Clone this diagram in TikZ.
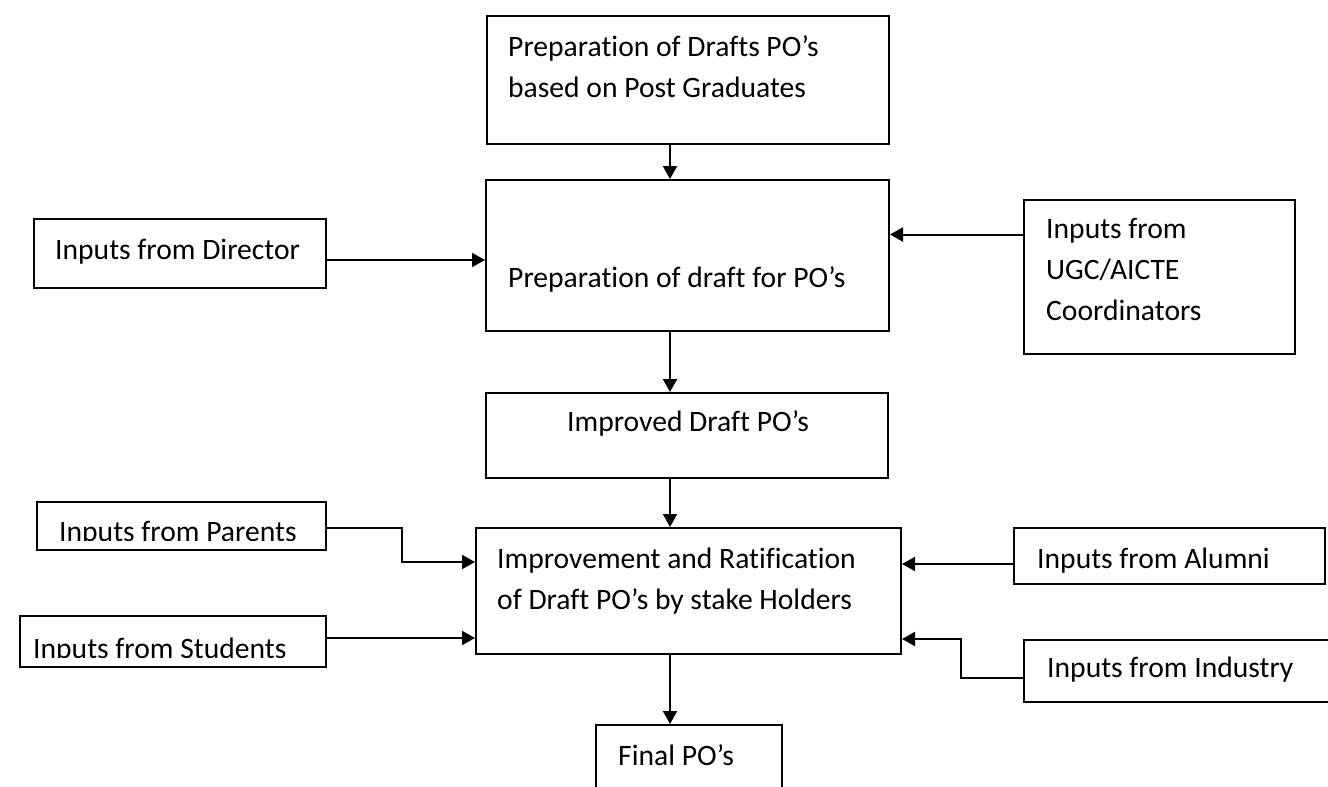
\documentclass[tikz,border=0pt]{standalone}
\usepackage{fontspec}
\setmainfont{Carlito}[Ligatures=NoCommon]
\usetikzlibrary{arrows.meta}

\begin{document}
\begin{tikzpicture}[x=1pt,y=-1pt,
  box/.style={draw,line width=2pt,rectangle,inner sep=0pt},
  arr/.style={line width=2pt,-{Triangle[length=13pt,width=14pt]}},
  txt/.style={anchor=base west,inner sep=0pt,align=left,font=\fontsize{29.6}{41}\selectfont}]
\clip (0,0) rectangle (1328,787);
\fill[white] (0,0) rectangle (1328,787);
\coordinate (axis) at (670,0);
% boxes
\node[box,minimum width=402pt,minimum height=128pt](draftpg) at (688,80){};
\node[box,minimum width=403pt,minimum height=151pt](prep) at (687.5,255.5){};
\node[box,minimum width=292pt,minimum height=69pt](dir) at (180,253.5){};
\node[box,minimum width=271pt,minimum height=154pt](ugc) at (1159.5,277){};
\node[box,minimum width=402pt,minimum height=85pt](impr) at (687,435.5){};
\node[box,minimum width=425pt,minimum height=126pt](rat) at (688.5,591){};
\node[box,minimum width=289pt,minimum height=48pt](par) at (181.5,526){};
\node[box,minimum width=306pt,minimum height=51pt](stu) at (173,641.5){};
\node[box,minimum width=311pt,minimum height=56pt](alu) at (1169.5,556){};
\node[box,minimum width=321pt,minimum height=62pt](ind) at (1184.5,671){};
\node[box,minimum width=186pt,minimum height=75pt](fin) at (689,762.5){};
% texts (multi-line ones sit on their last baseline)
\node[txt](tdraftpg) at (508,97){Preparation of Drafts PO’s\\based on Post Graduates};
\node[txt](tprep) at (508,287){Preparation of draft for PO’s};
\node[txt](tdir) at (55,259){Inputs from Director};
\node[txt](tugc) at (1046,320){Inputs from\\UGC/AICTE\\Coordinators};
\node[txt](timpr) at (567,431){Improved Draft PO’s};
\node[txt](trat) at (497,609){Improvement and Ratification\\of Draft PO’s by stake Holders};
\begin{scope}
  \clip (par.north west) rectangle ([yshift=11pt]par.south east);
  \node[txt](tpar) at (59,541){Inputs from Parents};
\end{scope}
\begin{scope}
  \clip (stu.north west) rectangle ([yshift=11pt]stu.south east);
  \node[txt](tstu) at (33,658){Inputs from Students};
\end{scope}
\node[txt](talu) at (1037,568){Inputs from Alumni};
\node[txt](tind) at (1047,677){Inputs from Industry};
\node[txt](tfin) at (618,765){Final PO’s};
% connectors
\draw[arr] (draftpg.south -| axis) -- (prep.north -| axis);
\draw[arr] (prep.south -| axis) -- (impr.north -| axis);
\draw[arr] (impr.south -| axis) -- (rat.north -| axis);
\draw[arr] (rat.south -| axis) -- (fin.north -| axis);
\coordinate (d1) at ([yshift=-4.5pt]prep.west);
\draw[arr] (dir.east |- d1) -- (d1);
\coordinate (u1) at ([yshift=21pt]prep.east);
\draw[arr] (ugc.west |- u1) -- (u1);
\coordinate (p1) at ([yshift=29pt]rat.west);
\draw[arr] ([yshift=-2pt]par.east) -- ++(75,0) |- (p1);
\coordinate (s1) at ([yshift=-47pt]rat.west);
\draw[arr] (stu.east |- s1) -- (s1);
\coordinate (a1) at ([yshift=27pt]rat.east);
\draw[arr] (alu.west |- a1) -- (a1);
\coordinate (i1) at ([yshift=-48pt]rat.east);
\draw[arr] ([yshift=-7pt]ind.west) -- ++(-62,0) |- (i1);
\end{tikzpicture}
\end{document}
